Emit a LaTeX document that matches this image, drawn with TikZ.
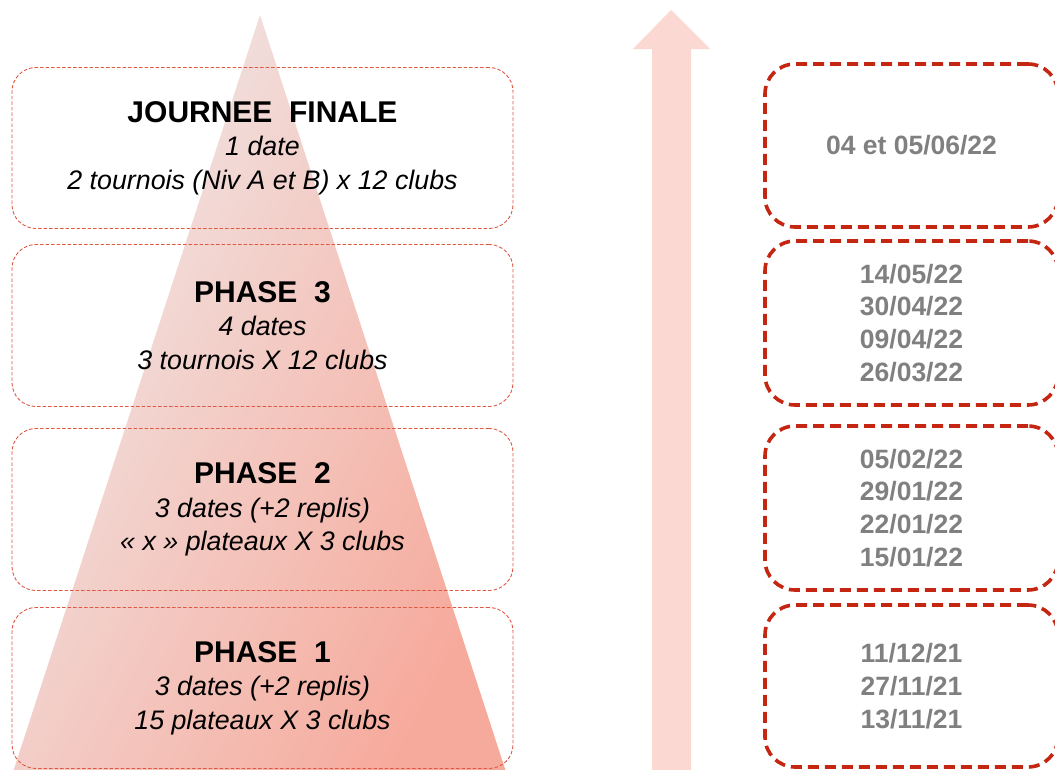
\documentclass[tikz,border=0pt]{standalone}
\usepackage{fontspec}
\setmainfont{Liberation Sans}
\definecolor{boxred}{RGB}{222,88,68}
\definecolor{datered}{RGB}{196,38,18}
\definecolor{dategray}{RGB}{128,128,128}
\definecolor{arrowpink}{RGB}{252,216,211}
\definecolor{triTop}{RGB}{240,233,233}
\definecolor{triBot}{RGB}{246,170,156}
\begin{document}
\begin{tikzpicture}[x=1pt,y=-1pt,
  phasebox/.style={draw=boxred, line width=0.9pt, dash pattern=on 3.5pt off 2pt,
    rounded corners=24pt, minimum width=501pt, minimum height=161pt,
    align=center, inner sep=0pt, font=\fontsize{26.8}{33.5}\selectfont\itshape},
  datebox/.style={draw=datered, line width=3.6pt, dash pattern=on 11pt off 6pt,
    rounded corners=30pt, minimum width=293pt, minimum height=161pt,
    align=center, inner sep=0pt, text=dategray,
    font=\fontsize{26.5}{32.8}\selectfont\bfseries}]
\useasboundingbox (0,0) rectangle (1055,769);
\clip (0,0) rectangle (1055,769);
% pyramid
\shade[top color=triTop, bottom color=triBot, shading angle=62]
  (260,15) -- (507,775) -- (12,775) -- cycle;
% arrow
\fill[arrowpink] (652,775) -- (652,49) -- (633,49) -- (671,10) -- (710,49)
  -- (691,49) -- (691,775) -- cycle;
% phase boxes
\newcommand{\ttlfont}{\fontsize{30}{35}\selectfont\bfseries\upshape}
\node[phasebox] (jf) at (262.5,148) {{\ttlfont JOURNEE\ \ FINALE}\\1 date\\2 tournois (Niv A et B) x 12 clubs};
\node[phasebox, minimum height=162pt] (p3) at (262.5,325.5) {{\ttlfont PHASE\ \ 3}\\4 dates\\3 tournois X 12 clubs};
\node[phasebox, minimum height=162pt] (p2) at (262.5,509.5) {{\ttlfont PHASE\ \ 2}\\3 dates (+2 replis)\\« x » plateaux X 3 clubs};
\node[phasebox] (p1) at (262.5,688) {{\ttlfont PHASE\ \ 1}\\3 dates (+2 replis)\\15 plateaux X 3 clubs};
% date boxes
\node[datebox, minimum height=163pt] (d4) at (911.5,145.5) {04 et 05/06/22};
\node[datebox, minimum height=164pt] (d3) at (911.5,323) {14/05/22\\30/04/22\\09/04/22\\26/03/22};
\node[datebox, minimum height=164pt] (d2) at (911.5,508) {05/02/22\\29/01/22\\22/01/22\\15/01/22};
\node[datebox, minimum height=162pt] (d1) at (911.5,686) {11/12/21\\27/11/21\\13/11/21};
\end{tikzpicture}
\end{document}
